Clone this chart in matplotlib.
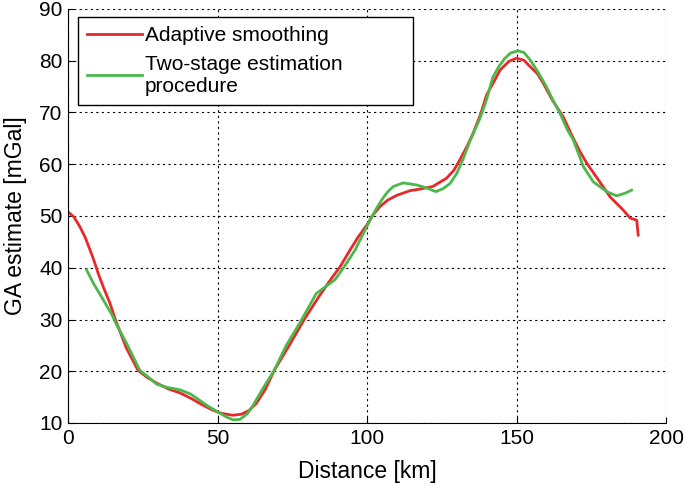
import numpy as np
import matplotlib
matplotlib.use("Agg")
import matplotlib.pyplot as plt

plt.rcParams['font.family'] = ['Liberation Sans', 'DejaVu Sans']

# values
adaptive_km = [0, 2, 4, 5.8, 7.4, 8.8, 10.1, 12, 14, 15.7, 19.5, 23.4, 26.5, 29.7, 33.5,
               37.5, 41, 44, 48, 51, 55, 58, 60.5, 63, 66, 69, 74, 79, 84, 88.2, 91, 94.3,
               97, 100, 102, 104.3, 107, 110, 114.4, 117.7, 122, 126.6, 129, 131, 133.5,
               135.5, 138, 140, 142.5, 144.5, 147.5, 150, 152.5, 154.5, 157, 159, 162,
               165.6, 168.5, 171, 173.5, 177, 181.3, 185.6, 188, 190.2, 190.7]
adaptive_ga = [50.8, 49.8, 47.9, 45.8, 43.4, 41.2, 38.9, 36.0, 33.2, 30.2, 24.5, 20.2, 18.8,
               17.7, 16.6, 15.8, 14.8, 13.8, 12.6, 11.9, 11.5, 11.7, 12.4, 13.8, 16.5, 20.2,
               25.0, 30.0, 34.5, 38.0, 40.2, 43.4, 45.9, 48.3, 50.2, 51.8, 53.1, 54.0, 54.9,
               55.2, 55.7, 57.3, 58.8, 60.8, 63.5, 66.0, 69.7, 73.4, 76.0, 78.2, 79.9, 80.5,
               80.1, 78.9, 77.5, 75.6, 72.4, 69.2, 65.6, 62.7, 60.2, 57.3, 53.7, 51.2, 49.6,
               49.2, 46.3]

twostage_km = [6.2, 8.5, 11.8, 14.6, 16.5, 19.5, 24, 27, 29.7, 33, 37.5, 41, 44, 47, 50,
               52.5, 55.2, 57.5, 60, 62, 65, 69, 73, 77.6, 83, 89.3, 92.5, 96, 98.5, 101,
               103, 104.9, 106.8, 108.8, 112.1, 116.6, 120.5, 123, 125.5, 127.8, 130, 132,
               134.5, 137.8, 140, 142, 144, 146, 148, 150.5, 152.5, 154.5, 157, 160, 162,
               164.5, 167, 169, 172.4, 175.7, 180.2, 183.5, 186.3, 188.5]
twostage_ga = [39.6, 37.0, 33.8, 31.0, 28.7, 25.5, 20.2, 18.8, 17.5, 16.9, 16.4, 15.6, 14.4,
               13.2, 12.2, 11.3, 10.6, 10.7, 11.8, 13.5, 16.5, 20.2, 25.0, 29.4, 35.0, 37.7,
               40.3, 43.4, 46.3, 49.2, 51.3, 53.1, 54.6, 55.7, 56.4, 56.0, 55.3, 54.7, 55.3,
               56.3, 58.2, 60.8, 64.6, 68.9, 72.5, 76.7, 78.8, 80.4, 81.5, 81.9, 81.6, 80.2,
               78.0, 75.0, 72.6, 69.9, 66.7, 64.7, 59.5, 56.6, 54.7, 53.9, 54.4, 55.0]

fig = plt.figure(figsize=(6.85, 4.83), dpi=100)
ax = fig.add_axes([68/685, 1 - 423/483, 598/685, 414/483])

ax.plot(adaptive_km, adaptive_ga, color='#e8282a', lw=2.0, label='Adaptive smoothing')
ax.plot(twostage_km, twostage_ga, color='#4cb84c', lw=2.0,
        label='Two-stage estimation\nprocedure')

ax.set_xlim(0, 200)
ax.set_ylim(10, 90)
ax.set_xticks([0, 50, 100, 150, 200])
ax.set_yticks(np.arange(10, 91, 10))
ax.grid(True, color='black', linestyle=(0, (2, 3)), lw=0.8)
ax.spines['top'].set_visible(False)
ax.spines['right'].set_visible(False)
ax.tick_params(direction='in', length=4, labelsize=15, pad=4)

ax.set_xlabel('Distance [km]', fontsize=16.5, labelpad=9)
ax.set_ylabel('GA estimate [mGal]', fontsize=16.5, labelpad=9)

# MATLAB-style legend box, wider than its text
leg = ax.legend(loc='upper left', bbox_to_anchor=(0.0167, 0.981, 0.56, 0.0),
                mode='expand', borderaxespad=0, fontsize=15,
                frameon=True, fancybox=False, edgecolor='black', framealpha=1,
                handlelength=2.6, borderpad=0.45, labelspacing=0.45, handletextpad=0.15)
leg.get_frame().set_linewidth(1.0)

fig.savefig('out.png', dpi=100)
